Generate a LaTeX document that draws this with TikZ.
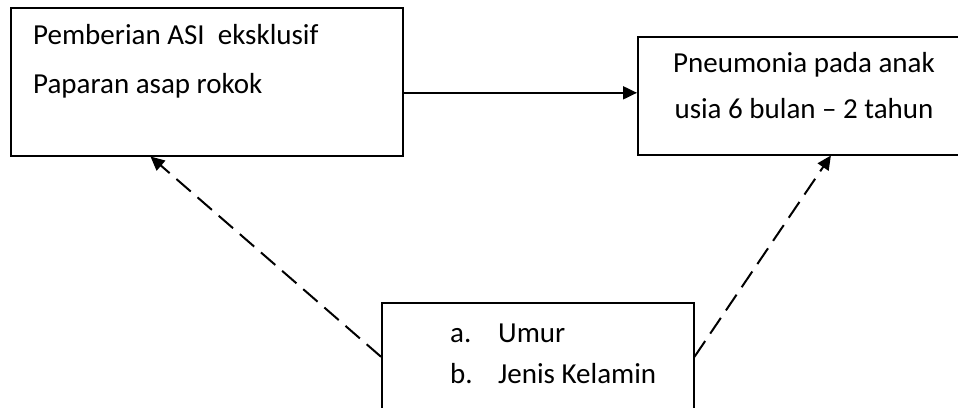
\documentclass[tikz,border=0pt]{standalone}
\usepackage{fontspec}
\setmainfont{Carlito}
\usetikzlibrary{positioning, arrows.meta, calc}

\tikzset{
  kotak/.style={draw, line width=1.5pt, rectangle, inner sep=0pt, anchor=north west},
  teks/.style={font=\fontsize{29}{35}\selectfont, inner sep=0pt},
  panah/.style={-{Triangle[length=14pt,width=13pt]}, line width=2pt},
  putus/.style={panah, dash pattern=on 19pt off 9pt},
}

\begin{document}
\begin{tikzpicture}[x=1pt, y=-1pt]
\useasboundingbox (0,0) rectangle (958,407);
\clip (0,0) rectangle (958,407);

% kotak
\node[kotak, minimum width=392pt, minimum height=148pt] (faktor) at (10,7) {};
\node[kotak, minimum width=334pt, minimum height=118pt] (pneu) at (637,36) {};
\node[kotak, minimum width=312pt, minimum height=108pt] (latar) at (381,302) {};

% teks
\node[teks, anchor=base west] (asi) at (33,44) {Pemberian ASI\ \ eksklusif};
\node[teks, anchor=base west] (asap) at (33,93) {Paparan asap rokok};
\node[teks, anchor=base] (pneuA) at (804,72) {Pneumonia pada anak};
\node[teks, anchor=base] (pneuB) at (804,118) {usia 6 bulan – 2 tahun};
\node[teks, anchor=base west] (umur) at (450,342) {\makebox[48pt][l]{a.}Umur};
\node[teks, anchor=base west] (kelamin) at (450,383) {\makebox[48pt][l]{b.}Jenis Kelamin};

% panah
\draw[panah] ($(faktor.north east)!0.574!(faktor.south east)$) coordinate (a) -- (a -| pneu.west);
\draw[putus] (latar.west) -- ($(faktor.south west)!0.357!(faktor.south east)$);
\draw[putus] (latar.east) -- ($(pneu.south west)!0.578!(pneu.south east)$);
\end{tikzpicture}
\end{document}
